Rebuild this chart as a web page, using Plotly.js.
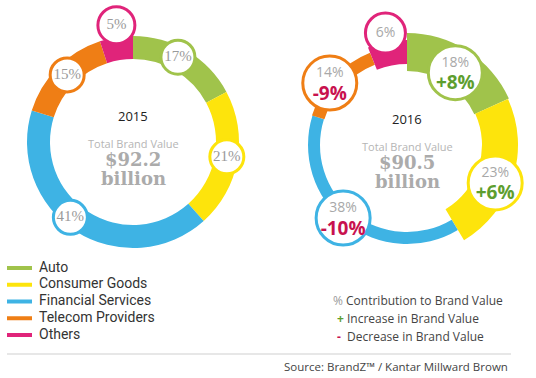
<!DOCTYPE html>
<html>
<head>
<meta charset="utf-8">
<script src="https://cdn.plot.ly/plotly-3.0.1.min.js"></script>
<style>html,body{margin:0;padding:0;background:#fff;}#chart{width:536px;height:378px;}</style>
</head>
<body>
<div id="chart"></div>
<script>
// ---------------- DATA ----------------
const categories = ['Auto', 'Consumer Goods', 'Financial Services', 'Telecom Providers', 'Others'];
const share2015 = [17, 21, 41, 15, 5];
const share2016 = [18, 23, 38, 14, 6];
const change2016 = [8, 6, -10, -9, null];
const years = ['2015', '2016'];
const totalValue = [92.2, 90.5];
const keyLines = ['Contribution to Brand Value', 'Increase in Brand Value', 'Decrease in Brand Value'];
const sourceText = 'Source: BrandZ\u2122 / Kantar Millward Brown';

// ---------------- STYLE ----------------
const colors = ['#a0c34b', '#fde40c', '#3eb3e4', '#ef7e15', '#e0247a'];
const W = 536, H = 378;
const ring2015 = {cx: 133, cy: 142, base: 83, thick: 23};
const ring2016 = {cx: 407, cy: 145, mid: 93, thick: [38, 36, 12, 13, 24]};
const labelR2015 = [96, 95, 98, 94, 118];
const labelNudge2015 = [-3, -1, 7, 1, 1];
const labelR2016 = [87, 96, 97, 99, 114];
const labelNudge2016 = [1, 6, 3, -4, 0];
const RMAX = 120;
const legendTop = 268, legendStep = 16.75, swatch = [7, 32], legendTextX = 39;

function segs(shares) {
  const sum = shares.reduce((a, b) => a + b, 0);
  let cum = 0;
  return shares.map(s => {
    const w = s / sum * 360;
    const c = cum + w / 2;
    cum += w;
    return {center: c, width: w};
  });
}
function dom(cx, cy) {
  return {
    x: [(cx - RMAX) / W, (cx + RMAX) / W],
    y: [(H - cy - RMAX) / H, (H - cy + RMAX) / H]
  };
}
const px = x => x / W;
const py = y => 1 - y / H;

const s15 = segs(share2015);
const s16 = segs(share2016);

const traces = [];
// rings
traces.push({
  type: 'barpolar', subplot: 'polar',
  theta: s15.map(s => s.center), width: s15.map(s => s.width),
  base: share2015.map(() => ring2015.base), r: share2015.map(() => ring2015.thick),
  marker: {color: colors, line: {width: 0}}, showlegend: false, hoverinfo: 'skip'
});
traces.push({
  type: 'barpolar', subplot: 'polar2',
  theta: s16.map(s => s.center), width: s16.map(s => s.width),
  base: ring2016.thick.map(t => ring2016.mid - t / 2), r: ring2016.thick,
  marker: {color: colors, line: {width: 0}}, showlegend: false, hoverinfo: 'skip'
});
// label circles 2015
traces.push({
  type: 'scatterpolar', subplot: 'polar', mode: 'markers+text', cliponaxis: false,
  theta: s15.map((s, i) => s.center + labelNudge2015[i]), r: labelR2015,
  text: share2015.map(v => v + '%'), textposition: 'middle center',
  textfont: {family: 'Liberation Serif, serif', size: 15, color: '#9a9a9a'},
  marker: {size: share2015.map((v, i) => i === 4 ? 37 : 34), color: '#ffffff', opacity: 1,
           line: {color: colors, width: 3}},
  showlegend: false, hoverinfo: 'skip'
});
// label circles 2016
const theta16 = s16.map((s, i) => s.center + labelNudge2016[i]);
traces.push({
  type: 'scatterpolar', subplot: 'polar2', mode: 'markers', cliponaxis: false,
  theta: theta16, r: labelR2016,
  marker: {size: change2016.map(v => v === null ? 40 : 54), color: '#ffffff', opacity: 1,
           line: {color: colors, width: 3}},
  showlegend: false, hoverinfo: 'skip'
});
traces.push({
  type: 'scatterpolar', subplot: 'polar2', mode: 'markers+text', cliponaxis: false,
  theta: theta16, r: labelR2016,
  text: share2016.map(v => v + '%'),
  textposition: change2016.map(c => c === null ? 'middle center' : 'top center'),
  textfont: {family: 'Open Sans, sans-serif', size: 14, color: '#a8a8a8'},
  marker: {size: 2, opacity: 0},
  showlegend: false, hoverinfo: 'skip'
});
traces.push({
  type: 'scatterpolar', subplot: 'polar2', mode: 'markers+text', cliponaxis: false,
  theta: theta16, r: labelR2016,
  text: change2016.map(c => c === null ? '' : '<b>' + (c > 0 ? '+' : '') + c + '%</b>'),
  textposition: 'bottom center',
  textfont: {family: 'Open Sans, sans-serif', size: 19,
             color: change2016.map(c => c !== null && c > 0 ? '#5e9e2f' : '#c8124f')},
  marker: {size: 2, opacity: 0},
  showlegend: false, hoverinfo: 'skip'
});
// legend (cartesian helper subplot, 1 unit = 1 px horizontally, 1 unit = one row vertically)
categories.forEach((c, i) => {
  traces.push({
    type: 'scatter', xaxis: 'x', yaxis: 'y', x: swatch, y: [i, i], mode: 'lines',
    line: {color: colors[i], width: 4}, showlegend: false, hoverinfo: 'skip', cliponaxis: false
  });
});
traces.push({
  type: 'scatter', xaxis: 'x', yaxis: 'y', mode: 'text', cliponaxis: false,
  x: categories.map(() => legendTextX), y: categories.map((c, i) => i), text: categories,
  textposition: 'middle right',
  textfont: {family: 'Roboto, sans-serif', size: 14, color: '#333'},
  showlegend: false, hoverinfo: 'skip'
});

const annotations = [];
const ann = (o) => Object.assign({xref: 'paper', yref: 'paper', showarrow: false, xanchor: 'center', yanchor: 'middle'}, o);
[ring2015, ring2016].forEach((rg, k) => {
  const cx = rg.cx;
  annotations.push(ann({text: years[k], x: px(cx), y: py(rg.cy - 26),
    font: {family: 'Open Sans, sans-serif', size: 13, color: '#222'}}));
  annotations.push(ann({text: 'Total Brand Value', x: px(cx), y: py(rg.cy + 1),
    font: {family: 'Open Sans, sans-serif', size: 11, color: '#b5b5b5'}}));
  annotations.push(ann({text: '<b>$' + totalValue[k].toFixed(1) + '</b>', x: px(cx), y: py(rg.cy + 17),
    font: {family: 'DejaVu Serif, serif', size: 18, color: '#ababab'}}));
  annotations.push(ann({text: '<b>billion</b>', x: px(cx), y: py(rg.cy + 37),
    font: {family: 'DejaVu Serif, serif', size: 18, color: '#ababab'}}));
});
const keyPrefix = ['<span style="color:#9a9a9a">%</span> ',
                   '<span style="color:#5e9e2f"><b>+</b></span> ',
                   '<span style="color:#c8124f"><b>-</b></span>  '];
keyLines.forEach((t, i) => {
  annotations.push(ann({text: keyPrefix[i] + t, x: px(331 + (i ? 4 : 0)), y: py(300 + i * 18),
    xanchor: 'left', font: {family: 'Open Sans, sans-serif', size: 12, color: '#444'}}));
});
annotations.push(ann({text: sourceText, x: px(510), y: py(366),
  xanchor: 'right', font: {family: 'Open Sans, sans-serif', size: 11.5, color: '#444'}}));

const polarCommon = () => ({
  bgcolor: 'rgba(0,0,0,0)',
  angularaxis: {visible: false, rotation: 90, direction: 'clockwise', showgrid: false, showline: false, ticks: ''},
  radialaxis: {visible: false, range: [0, RMAX], showgrid: false, showline: false, ticks: ''}
});

const legH = legendStep * categories.length;
const legTop = legendTop - legendStep / 2;
const layout = {
  width: W, height: H,
  margin: {l: 0, r: 0, t: 0, b: 0},
  paper_bgcolor: '#ffffff', plot_bgcolor: 'rgba(0,0,0,0)',
  polar: Object.assign({domain: dom(ring2015.cx, ring2015.cy)}, polarCommon()),
  polar2: Object.assign({domain: dom(ring2016.cx, ring2016.cy)}, polarCommon()),
  xaxis: {visible: false, domain: [0, 200 / W], range: [0, 200], fixedrange: true},
  yaxis: {visible: false, domain: [py(legTop + legH), py(legTop)],
          range: [categories.length - 0.5, -0.5], fixedrange: true},
  showlegend: false,
  shapes: [{type: 'line', xref: 'paper', yref: 'paper', x0: px(7), x1: px(511), y0: py(354), y1: py(354),
            line: {color: '#cfcfcf', width: 1}}],
  annotations: annotations
};

Plotly.newPlot('chart', traces, layout, {displayModeBar: false, staticPlot: true});
</script>
</body>
</html>
